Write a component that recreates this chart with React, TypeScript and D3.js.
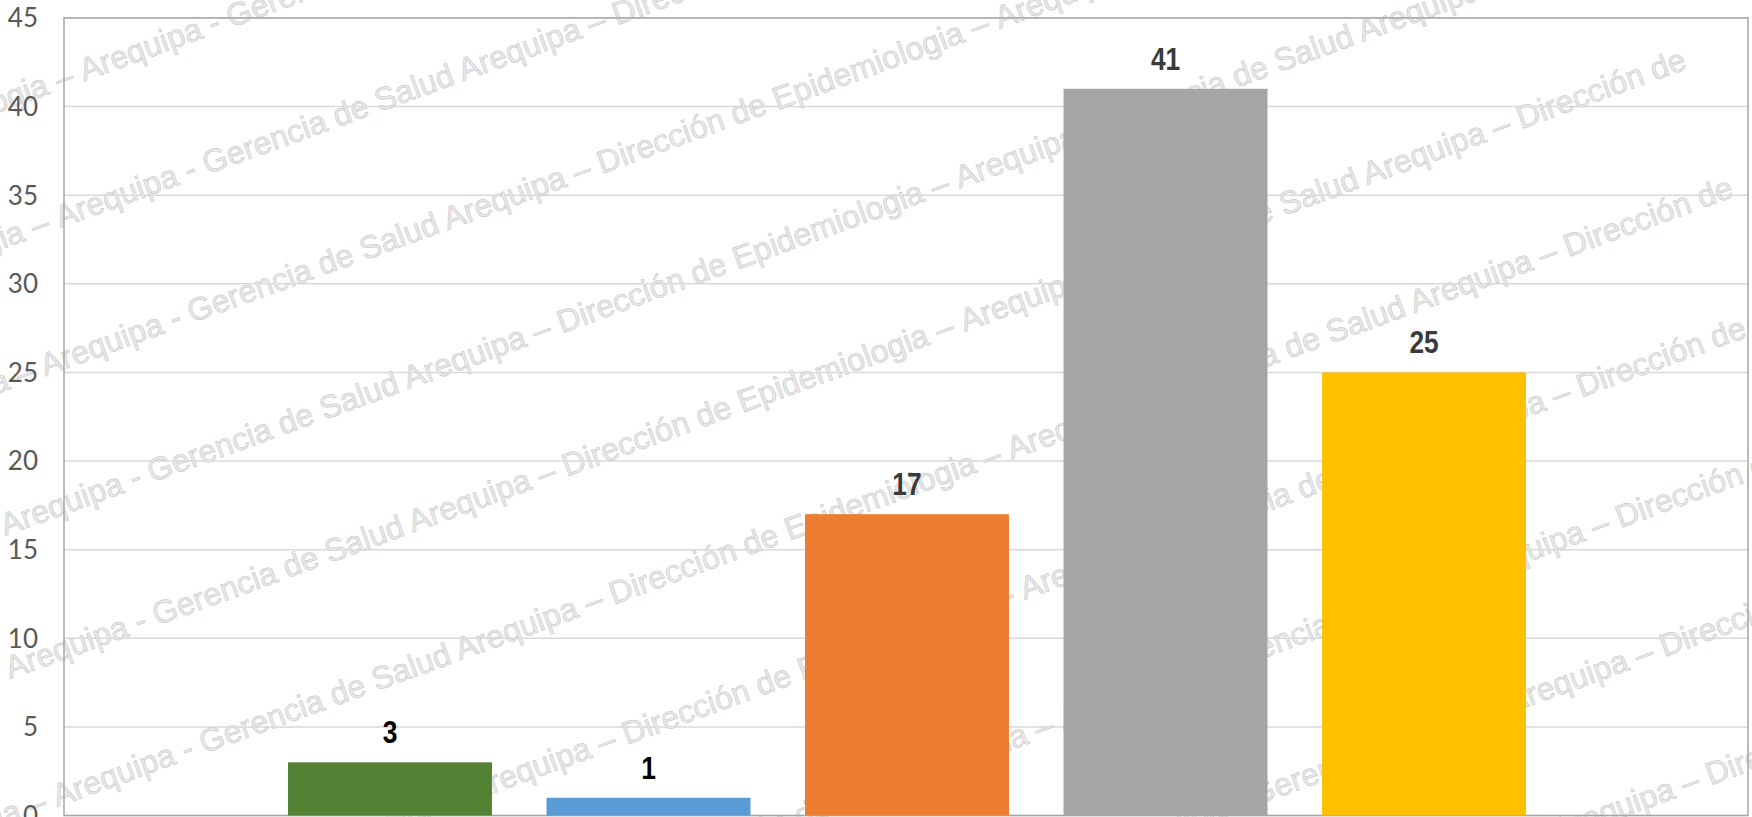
import React from "react";
import * as d3 from "d3";

const categories = ["Grupo 1", "Grupo 2", "Grupo 3", "Grupo 4", "Grupo 5"];
const values = [3, 1, 17, 41, 25];
const barColors = ["#548235", "#5B9BD5", "#ED7D31", "#A5A5A5", "#FFC000"];
const labelColors = ["#000000", "#000000", "#3a3a3a", "#3a3a3a", "#3a3a3a"];
const yTicks = [0, 5, 10, 15, 20, 25, 30, 35, 40, 45];

const WM_UNIT = "Arequipa - Gerencia de Salud Arequipa – Dirección de Epidemiologia –\u00A0";
const WM_MAIN = WM_UNIT + "Arequipa - Gerencia de Salud Arequipa – Dirección de";
// watermark rows: [y-intercept at x=0, x where "Arequipa - Gerencia" begins]
const wmRows: [number, number][] = [
  [112, 84],
  [250, 60],
  [393, 45],
  [538, 5],
  [683, 10],
  [828, 57],
  [973, 70],
  [1118, 109],
  [1263, 153],
  [1408, 199],
];

const W = 1752;
const H = 817;
const PL = 64;
const PR = 1748;
const PT = 17.9;
const PB = 815.5;

export default function App() {
  React.useEffect(() => {
    document.body.style.margin = "0";
  }, []);

  const y = d3.scaleLinear().domain([0, 45]).range([PB, PT]);
  const x = d3
    .scaleBand<string>()
    .domain(categories)
    .range([288 - 27.3, 1526 + 27.3])
    .paddingInner(0.211)
    .paddingOuter(0.1055);

  const angle = 20;
  const tanA = Math.tan((angle * Math.PI) / 180);
  const wmFont = 32;

  return (
    <svg
      width={W}
      height={H}
      style={{ position: "absolute", left: 0, top: 0, display: "block", background: "#fff" }}
    >
      <rect x={0} y={0} width={W} height={H} fill="#ffffff" />
      {/* gridlines */}
      {yTicks.map((t) => (
        <line
          key={"g" + t}
          x1={PL}
          x2={PR}
          y1={y(t)}
          y2={y(t)}
          stroke="#d9d9d9"
          strokeWidth={1.5}
        />
      ))}
      {/* watermark */}
      <g
        fontFamily="'Liberation Sans', Arial, sans-serif"
        fontSize={wmFont}
        fill="#e8e8e8"
        stroke="#c4c4c4"
        strokeWidth={0.5}
        style={{ whiteSpace: "pre" }}
      >
        {wmRows.map(([c, x0], i) => {
          const yy = c - tanA * x0;
          return (
            <g key={"wm" + i} transform={`rotate(${-angle} ${x0} ${yy})`}>
              <text x={x0} y={yy} textAnchor="end">
                {WM_UNIT + WM_UNIT}
              </text>
              <text x={x0} y={yy} textAnchor="start">
                {WM_MAIN}
              </text>
            </g>
          );
        })}
      </g>
      {/* frame */}
      <rect
        x={PL}
        y={PT}
        width={PR - PL}
        height={PB - PT}
        fill="none"
        stroke="#a6a6a6"
        strokeWidth={1.5}
      />
      {/* bars */}
      {values.map((v, i) => (
        <rect
          key={"b" + i}
          x={x(categories[i])}
          y={y(v)}
          width={x.bandwidth()}
          height={y(0) - y(v)}
          fill={barColors[i]}
        />
      ))}
      {/* data labels */}
      {values.map((v, i) => {
        const cx = (x(categories[i]) as number) + x.bandwidth() / 2;
        const cy = y(v) - 19;
        return (
          <text
            key={"l" + i}
            transform={`translate(${cx},${cy}) scale(0.85,1)`}
            textAnchor="middle"
            fontFamily="'Liberation Sans', Arial, sans-serif"
            fontWeight="bold"
            fontSize={31}
            fill={labelColors[i]}
          >
            {v}
          </text>
        );
      })}
      {/* y tick labels */}
      {yTicks.map((t) => (
        <text
          key={"t" + t}
          x={38}
          y={y(t)}
          dy="0.36em"
          textAnchor="end"
          fontFamily="Lato, 'Open Sans', sans-serif"
          fontSize={26}
          fill="#595959"
        >
          {t}
        </text>
      ))}
    </svg>
  );
}
